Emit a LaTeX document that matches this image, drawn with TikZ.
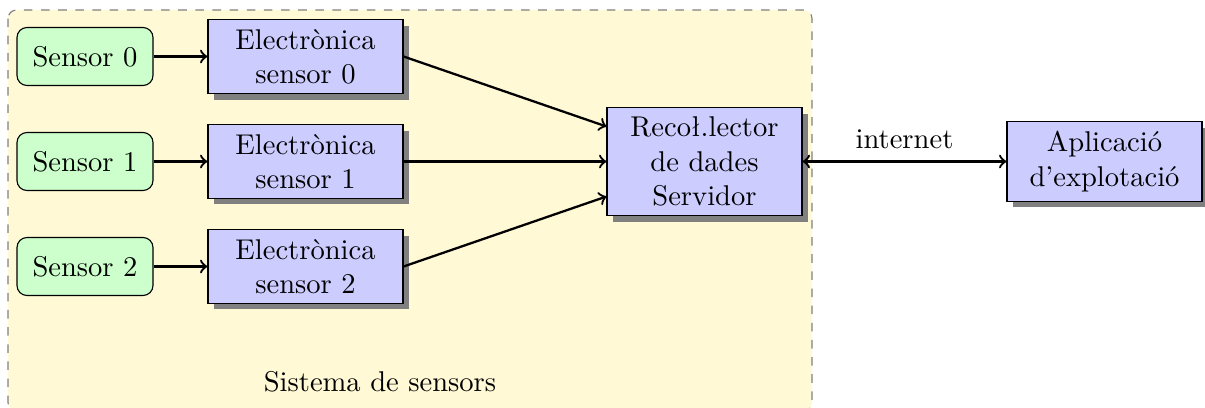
\documentclass[tikz,border=0pt]{standalone}
\usetikzlibrary{shadows,arrows}
\definecolor{bgyellow}{RGB}{255,249,214}
\definecolor{sensgreen}{RGB}{204,255,204}
\definecolor{boxblue}{RGB}{204,204,255}
\tikzset{
  sensorbox/.style={draw, fill=sensgreen, rounded corners=3.5pt, minimum width=47.6pt, minimum height=20.3pt, inner sep=0pt},
  blockbox/.style={draw, fill=boxblue, minimum width=68.25pt, align=center, drop shadow={fill=black!50, opacity=1}},
  conn/.style={thick, ->},
}
\begin{document}
\begin{tikzpicture}[x=0.35pt,y=-0.35pt]
\useasboundingbox (0,0) rectangle (1205,407);
\draw[gray, dashed, fill=bgyellow, rounded corners=3pt] (8,10) rectangle (812,411);
\node[anchor=base] (sist) at (380,391) {Sistema de sensors};

\node[sensorbox] (s0) at (85,56.5) {Sensor 0};
\node[sensorbox] (s1) at (85,161.5) {Sensor 1};
\node[sensorbox] (s2) at (85,266.5) {Sensor 2};

\node[blockbox] (e0) at (305.5,56.5) {Electrònica\\sensor 0};
\node[blockbox] (e1) at (305.5,161.5) {Electrònica\\sensor 1};
\node[blockbox] (e2) at (305.5,266.5) {Electrònica\\sensor 2};

\node[blockbox] (rec) at (704.5,161.5) {Recoł.lector\\de dades\\Servidor};
\node[blockbox] (app) at (1104.5,161.5) {Aplicació\\d'explotació};

\draw[conn] (s0) -- (e0);
\draw[conn] (s1) -- (e1);
\draw[conn] (s2) -- (e2);
\draw[conn] (e0.east) -- ([yshift=12.25pt]rec.west);
\draw[conn] (e1.east) -- (rec.west);
\draw[conn] (e2.east) -- ([yshift=-12.25pt]rec.west);
\draw[thick, <->] (rec.east) -- node[above=0.7pt] (inet) {internet} (app.west);
\end{tikzpicture}
\end{document}
